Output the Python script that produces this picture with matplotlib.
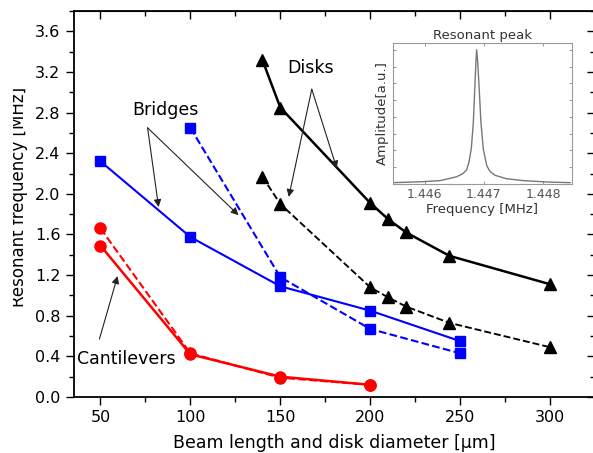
import matplotlib
matplotlib.use("Agg")
import matplotlib.pyplot as plt
from matplotlib.patches import Rectangle
from matplotlib.ticker import MultipleLocator

plt.rcParams['font.family'] = ['DejaVu Sans']

# Cantilevers (red circles)
cant_x = [50, 100, 150, 200]
cant_solid = [1.49, 0.42, 0.20, 0.12]
cant_dashed = [1.66, 0.43, 0.19, 0.12]

# Bridges (blue squares)
bridge_solid_x = [50, 100, 150, 200, 250]
bridge_solid = [2.32, 1.575, 1.09, 0.85, 0.55]
bridge_dashed_x = [100, 150, 200, 250]
bridge_dashed = [2.65, 1.18, 0.67, 0.43]

# Disks (black triangles)
disk_x = [140, 150, 200, 210, 220, 244, 300]
disk_solid = [3.32, 2.85, 1.91, 1.75, 1.62, 1.39, 1.11]
disk_dashed = [2.17, 1.90, 1.08, 0.98, 0.89, 0.73, 0.49]

# Inset: measured resonance curve
peak_freq = [1.445463, 1.445971, 1.446254, 1.446537, 1.446644, 1.446707,
             1.446746, 1.446785, 1.446819, 1.446842, 1.446864, 1.446876,
             1.446893, 1.446920, 1.446949, 1.446988, 1.447046, 1.447102,
             1.447186, 1.447373, 1.447666, 1.448063, 1.448458]
peak_amp = [0.08, 0.14, 0.20, 0.43, 0.62, 0.85,
            1.30, 2.10, 3.60, 5.50, 7.30, 8.00,
            7.30, 5.60, 3.65, 2.10, 1.10, 0.75,
            0.52, 0.32, 0.20, 0.12, 0.08]

x_ticks = [50, 100, 150, 200, 250, 300]
y_ticks = [0.0, 0.4, 0.8, 1.2, 1.6, 2.0, 2.4, 2.8, 3.2, 3.6]
inset_ticks = [1.446, 1.447, 1.448]

W, H = 593, 453
fig = plt.figure(figsize=(W / 100, H / 100), dpi=100)
ax = fig.add_axes([73.5 / W, 1 - 397 / H, (595 - 73.5) / W, (397 - 11) / H])

lw = 1.5
ax.plot(cant_x, cant_dashed, '--', color='#ff0000', lw=lw, marker='o', ms=8)
ax.plot(cant_x, cant_solid, '-', color='#ff0000', lw=lw * 1.2, marker='o', ms=8)
ax.plot(bridge_dashed_x, bridge_dashed, '--', color='#0000ff', lw=lw, marker='s', ms=7)
ax.plot(bridge_solid_x, bridge_solid, '-', color='#0000ff', lw=lw, marker='s', ms=7)
ax.plot(disk_x, disk_dashed, '--', color='black', lw=lw * 0.9, marker='^', ms=9)
ax.plot(disk_x, disk_solid, '-', color='black', lw=lw * 1.2, marker='^', ms=9)

ax.set_xlim(35, 325)
ax.set_ylim(0, 3.8)
ax.set_xticks(x_ticks)
ax.set_yticks(y_ticks)
ax.set_yticklabels([f"{v:.1f}" for v in y_ticks])
ax.xaxis.set_minor_locator(MultipleLocator(25))
ax.yaxis.set_minor_locator(MultipleLocator(0.2))
ax.tick_params(which='both', labelsize=11.5, width=1.0, color='black')
ax.tick_params(which='major', length=6)
ax.tick_params(which='minor', length=3.5)
for s in ax.spines.values():
    s.set_linewidth(1.3)
ax.spines['right'].set_visible(False)

# mirrored ticks on the top and right edges point inward
sec_x = ax.secondary_xaxis('top')
sec_x.set_xticks(x_ticks)
sec_x.xaxis.set_minor_locator(MultipleLocator(25))
sec_x.tick_params(which='both', direction='in', labeltop=False, width=1.0)
sec_x.tick_params(which='major', length=6)
sec_x.tick_params(which='minor', length=3.5)
sec_y = ax.secondary_yaxis('right')
sec_y.set_yticks(y_ticks)
sec_y.yaxis.set_minor_locator(MultipleLocator(0.2))
sec_y.tick_params(which='both', direction='in', labelright=False, width=1.0)
sec_y.tick_params(which='major', length=6)
sec_y.tick_params(which='minor', length=3.5)
sec_y.spines['right'].set_visible(False)

ax.set_xlabel("Beam length and disk diameter [\u00b5m]", fontsize=12.5, labelpad=6)
ax.set_ylabel("Resonant frequency [MHz]", fontsize=12)
ax.yaxis.set_label_coords(-0.087, 0.519)

arrow = dict(arrowstyle='-|>', color='#222222', lw=0.8, mutation_scale=11,
             shrinkA=0, shrinkB=0)
ax.text(86.2, 2.83, "Bridges", fontsize=12.5, ha='center', va='center')
ax.annotate("", xy=(82.3, 1.87), xytext=(76.2, 2.65), arrowprops=arrow)
ax.annotate("", xy=(126.8, 1.79), xytext=(76.2, 2.65), arrowprops=arrow)

ax.text(166.9, 3.24, "Disks", fontsize=12.5, ha='center', va='center')
ax.annotate("", xy=(154.7, 1.97), xytext=(167.5, 3.03), arrowprops=arrow)
ax.annotate("", xy=(181.4, 2.25), xytext=(167.5, 3.03), arrowprops=arrow)

ax.text(64.5, 0.37, "Cantilevers", fontsize=12.5, ha='center', va='center')
ax.annotate("", xy=(59.5, 1.19), xytext=(49.4, 0.57), arrowprops=arrow)

# Inset with a single resonance peak
ins = fig.add_axes([393 / W, 1 - 184 / H, (572 - 393) / W, (184 - 43) / H])
ins.plot(peak_freq, peak_amp, color='#777777', lw=1.0)
ins.set_xlim(1.44546, 1.44849)
ins.set_ylim(0, 8.4)
ins.set_xticks(inset_ticks)
ins.set_xticklabels(["1.446", "1.447", "1.448"])
ins.xaxis.set_minor_locator(MultipleLocator(0.0005))
ins.yaxis.set_major_locator(MultipleLocator(1))
ins.tick_params(which='both', direction='in', top=True, right=True,
                labelleft=False, color='#888888', length=2.5, width=0.6,
                labelsize=9, labelcolor='#555555', pad=3)
ins.tick_params(which='minor', length=0)
for s in ins.spines.values():
    s.set_color('#999999')
    s.set_linewidth(0.8)
ins.set_title("Resonant peak", fontsize=9.5, color='#333333', pad=3)
ins.set_xlabel("Frequency [MHz]", fontsize=9.5, color='#333333', labelpad=1)
ins.set_ylabel("Amplitude[a.u.]", fontsize=9.5, color='#333333', labelpad=3)

# blank margin along the left edge
fig.patches.append(Rectangle((0, 0), 13 / W, 1, transform=fig.transFigure,
                             facecolor='white', edgecolor='none', zorder=10))

fig.savefig("out.png", dpi=100)
